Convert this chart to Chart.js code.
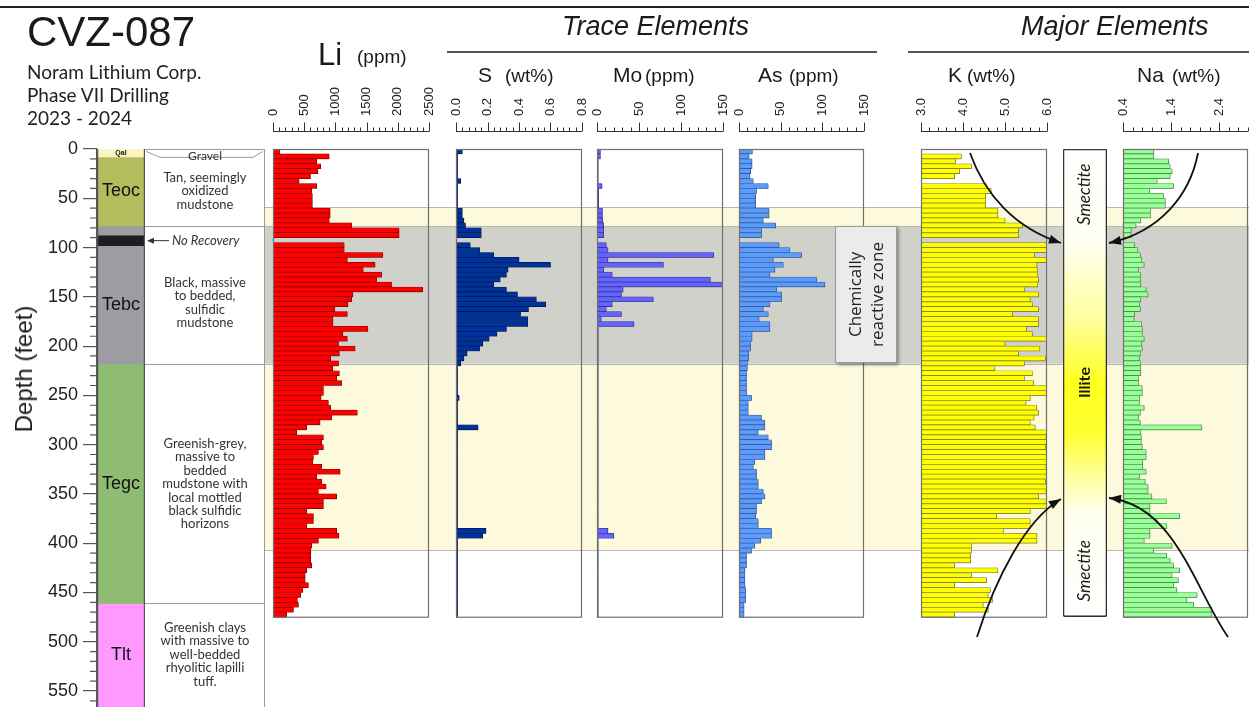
<!DOCTYPE html>
<html>
<head>
<meta charset="utf-8">
<title>CVZ-087</title>
<script src="https://cdn.jsdelivr.net/npm/chart.js@4.4.1/dist/chart.umd.min.js"></script>
<style>
html,body{margin:0;padding:0;background:#fff;}
#wrap{position:relative;width:1249px;height:707px;overflow:hidden;background:#fff;}
#wrap canvas{position:absolute;z-index:1;}
.t{position:absolute;white-space:nowrap;color:#1a1a1a;z-index:5;line-height:1;font-family:'Liberation Sans',Arial,sans-serif;}
.c{font-family:Lato,'Open Sans',sans-serif;color:#222;}
.desc{position:absolute;left:146px;width:118px;text-align:center;font-family:Lato,sans-serif;font-size:13px;line-height:13.4px;color:#333;z-index:5;}
.rule{position:absolute;z-index:5;}
</style>
</head>
<body>
<div id="wrap">
  <div class="rule" style="left:0;top:6px;width:1249px;height:2px;background:#222"></div>
  <div class="t" style="left:27px;top:11px;font-size:42px;">CVZ-087</div>
  <div class="t c" style="left:27px;top:62px;font-size:19px;">Noram Lithium Corp.</div>
  <div class="t c" style="left:27px;top:85px;font-size:19px;">Phase VII Drilling</div>
  <div class="t c" style="left:27px;top:108px;font-size:19px;">2023 - 2024</div>

  <div class="t" style="left:562px;top:13px;font-size:27px;font-style:italic;">Trace Elements</div>
  <div class="rule" style="left:447px;top:51px;width:430px;height:2px;background:#555"></div>
  <div class="t" style="left:1021px;top:13px;font-size:27px;font-style:italic;">Major Elements</div>
  <div class="rule" style="left:908px;top:51px;width:341px;height:2px;background:#555"></div>

  <div class="t" style="left:318px;top:39px;font-size:31px;">Li</div>
  <div class="t" style="left:357px;top:47px;font-size:19px;">(ppm)</div>
  <div class="t" style="left:478px;top:64px;font-size:21px;">S</div>
  <div class="t" style="left:505px;top:66px;font-size:19px;">(wt%)</div>
  <div class="t" style="left:613px;top:64px;font-size:21px;">Mo</div>
  <div class="t" style="left:645px;top:66px;font-size:19px;">(ppm)</div>
  <div class="t" style="left:758px;top:64px;font-size:21px;">As</div>
  <div class="t" style="left:789px;top:66px;font-size:19px;">(ppm)</div>
  <div class="t" style="left:948px;top:64px;font-size:21px;">K</div>
  <div class="t" style="left:967px;top:66px;font-size:19px;">(wt%)</div>
  <div class="t" style="left:1137px;top:64px;font-size:21px;">Na</div>
  <div class="t" style="left:1172px;top:66px;font-size:19px;">(wt%)</div>

  <div class="t" style="left:24px;top:369px;font-size:24px;transform:translate(-50%,-50%) rotate(-90deg);">Depth (feet)</div>

  <div class="desc" style="top:149px;font-size:12px;">Gravel</div>
  <div class="desc" style="top:171px;">Tan, seemingly<br>oxidized<br>mudstone</div>
  <div class="t c" style="left:172px;top:234px;font-size:13px;font-style:italic;color:#333;">No Recovery</div>
  <div class="desc" style="top:276px;">Black, massive<br>to bedded,<br>sulfidic<br>mudstone</div>
  <div class="desc" style="top:437px;">Greenish-grey,<br>massive to<br>bedded<br>mudstone with<br>local mottled<br>black sulfidic<br>horizons</div>
  <div class="desc" style="top:621px;">Greenish clays<br>with massive to<br>well-bedded<br>rhyolitic lapilli<br>tuff.</div>

  <div style="position:absolute;left:835px;top:226px;width:62px;height:137px;background:#ebebeb;border:1px solid #9a9a9a;box-shadow:2px 2px 3px rgba(0,0,0,0.35);z-index:6;box-sizing:border-box;display:flex;align-items:center;justify-content:center;">
    <div style="writing-mode:vertical-rl;transform:rotate(180deg);font-family:'Open Sans',sans-serif;font-size:17px;line-height:22px;text-align:center;color:#222;white-space:nowrap;">Chemically<br>reactive zone</div>
  </div>
</div>
<script>
// ---------------- DATA ----------------
const DEPTH_MAX = 566.2;      // depth shown at the bottom edge (feet)
const FRAME_BOTTOM = 474.6;   // bottom of the sampled interval (feet)

const SAMPLE_DEPTHS = [
  2.5,7.5,12.5,17.5,22.5,27.5,32.5,37.5,42.5,47.5,
  52.5,57.5,62.5,67.5,72.5,77.5,82.5,87.5,92.5,97.5,
  102.5,107.5,112.5,117.5,122.5,127.5,132.5,137.5,142.5,147.5,
  152.5,157.5,162.5,167.5,172.5,177.5,182.5,187.5,192.5,197.5,
  202.5,207.5,212.5,217.5,222.5,227.5,232.5,237.5,242.5,247.5,
  252.5,257.5,262.5,267.5,272.5,277.5,282.5,287.5,292.5,297.5,
  302.5,307.5,312.5,317.5,322.5,327.5,332.5,337.5,342.5,347.5,
  352.5,357.5,362.5,367.5,372.5,377.5,382.5,387.5,392.5,397.5,
  402.5,407.5,412.5,417.5,422.5,427.5,432.5,437.5,442.5,447.5,
  452.5,457.5,462.5,467.5,472.5
];

const LI_PPM = [
  110,900,700,765,720,600,417,700,620,630,
  630,630,915,915,900,1260,2020,2020,null,1140,
  1140,1760,1190,1635,1445,1740,1660,1900,2400,1280,
  1260,1200,990,1190,960,960,1520,1120,1190,1050,
  1315,1063,925,1050,957,1063,1020,1100,807,807,
  770,887,925,1350,940,753,540,380,807,780,
  807,727,647,636,780,1075,700,780,850,727,
  1020,807,807,540,647,647,540,1020,1055,727,
  620,605,605,605,620,540,514,514,567,476,
  444,390,407,327,220
];
const S_WT = [
  0.04,0.01,0.01,0.01,0.01,0.01,0.03,0.01,0.01,0.01,
  0.01,0.01,0.04,0.04,0.05,0.06,0.16,0.16,null,0.09,
  0.15,0.24,0.40,0.60,0.33,0.32,0.28,0.24,0.32,0.39,
  0.51,0.57,0.46,0.41,0.455,0.455,0.32,0.26,0.21,0.17,
  0.15,0.07,0.05,0.03,0.01,0.01,0.01,0.01,0.01,0.01,
  0.02,0.01,0.01,0.01,0.01,0.01,0.14,0.01,0.01,0.01,
  0.01,0.01,0.01,0.01,0.01,0.01,0.01,0.01,0.01,0.01,
  0.01,0.01,0.01,0.01,0.01,0.01,0.01,0.19,0.17,0.01,
  0.01,0.01,0.01,0.01,0.01,0.01,0.01,0.01,0.01,0.01,
  0.01,0.01,0.01,0.01,0.01
];
const MO_PPM = [
  4,4,1.5,1.5,1.5,1.5,1.5,6,2,2,
  2,2,6.5,6.5,7,8,8,8,null,11,
  13,139,13,79,8,18,135,150,31,29,
  67,18,11,29,5,44,1.5,1.5,1.5,1.5,
  1.5,1.5,1.5,1.5,1.5,1.5,1.5,1.5,1.5,1.5,
  1.5,1.5,1.5,1.5,1.5,1.5,1.5,1.5,1.5,1.5,
  1.5,1.5,1.5,1.5,1.5,1.5,1.5,1.5,1.5,1.5,
  1.5,1.5,1.5,1.5,1.5,1.5,1.5,13,20,1.5,
  1.5,1.5,1.5,1.5,1.5,1.5,1.5,1.5,1.5,1.5,
  1.5,1.5,1.5,1.5,1.5
];
const AS_PPM = [
  16,12,15.6,15.6,14,13,17,35,21,20,
  20,20,36,36,29,44,27,27,null,48,
  61,75,41,53,43,37,93,103,45,51,
  51,37,29,35,24,37,37,15.6,15.6,13.8,
  13.8,11.6,11.6,10,10,9,9,9,9,9,
  15,11,11,11,27,31,31,23,35,39,
  39,31,31,19,17,21,21,23,23,29,
  31,27,21,21,20,23,23,39,39,26,
  19,15,9,9,9,7,7,7,7,8,
  8,8,6,6,6
];
const K_WT = [
  null,3.96,3.82,4.2,3.92,3.8,2.9,4.56,4.67,4.54,
  4.54,4.54,4.83,4.83,5.0,5.42,5.32,5.32,null,6.0,
  6.0,5.7,6.0,5.76,5.78,5.78,5.8,5.78,5.46,5.8,
  5.6,5.65,5.8,5.18,5.8,5.8,5.51,5.65,6.0,5.0,
  5.83,5.32,5.96,5.46,4.76,5.65,5.46,5.68,6.0,6.0,
  5.6,5.5,5.75,5.8,5.69,5.6,5.72,6.0,5.98,6.0,
  5.97,6.0,5.99,6.0,5.98,6.0,6.0,5.97,6.0,5.98,
  5.8,6.0,6.0,5.6,4.8,5.6,5.6,4.96,5.76,5.76,
  4.2,4.2,4.18,4.18,3.8,4.83,4.2,4.56,3.8,4.65,
  4.6,4.7,4.48,4.6,3.8
];
const NA_WT = [
  1.04,1.04,1.35,1.38,1.42,1.38,1.11,1.45,0.95,1.24,
  1.28,1.28,0.97,0.97,0.77,0.67,0.57,0.57,null,0.64,
  0.71,0.76,0.79,0.84,0.72,0.77,0.76,0.77,0.88,0.92,
  0.77,0.74,0.76,0.64,0.63,0.79,0.8,0.8,0.84,0.79,
  0.8,0.76,0.74,0.77,0.77,0.77,0.72,0.72,0.8,0.8,
  0.74,0.74,0.84,0.76,0.72,0.76,2.04,0.77,0.78,0.78,
  0.8,0.88,0.88,0.81,0.81,0.88,0.74,0.86,0.92,0.92,
  1.0,1.3,0.96,0.96,1.58,1.11,1.31,0.96,0.96,0.84,
  1.42,1.04,1.31,1.38,1.45,1.58,1.42,1.55,1.45,1.52,
  1.94,1.73,1.87,2.25,2.25
];

// axis ticks (values and labels)
const LI_TICKS = [0,500,1000,1500,2000,2500];
const LI_TICK_LABELS = ['0','500','1000','1500','2000','2500'];
const S_TICKS = [0,0.2,0.4,0.6,0.8];
const S_TICK_LABELS = ['0.0','0.2','0.4','0.6','0.8'];
const MO_TICKS = [0,50,100,150];
const MO_TICK_LABELS = ['0','50','100','150'];
const AS_TICKS = [0,50,100,150];
const AS_TICK_LABELS = ['0','50','100','150'];
const K_TICKS = [3,4,5,6];
const K_TICK_LABELS = ['3.0','4.0','5.0','6.0'];
const NA_TICKS = [0.4,1.4,2.4];
const NA_TICK_LABELS = ['0.4','1.4','2.4'];
const DEPTH_TICKS_STEP = 50;

// lithology units (feet)
const LITH_UNITS = ['Qal','Teoc','Tebc','Tegc','Tlt'];
const LITH_TOP   = [0, 8, 78, 218, 461];
const LITH_BASE  = [8, 78, 218, 461, 570];
const LITH_LABEL_DEPTH = [4, 43, 158, 340, 513];
const NO_RECOVERY = [88, 98];

// highlighted depth bands (feet)
const BAND_TOP  = [59, 78, 218];
const BAND_BASE = [78, 218, 407];

// clay mineralogy column
const CLAY_LABELS = ['Smectite','Illite','Smectite'];
const CLAY_LABEL_DEPTH = [46, 237, 428];

// ---------------- STYLE / LAYOUT ----------------
const W = 1249, H = 707, Y0 = 149;
const LITH_COLORS = ['#fbf5c0','#b4bd5e','#9c9ca2','#8dbc72','#ff99ff'];
const BAND_COLORS = ['#fdf9dc','#d1d1cc','#fdf9dc'];
const BAND_X0 = 264;
const wrap = document.getElementById('wrap');

function makeCanvas(l, t, w, h) {
  const c = document.createElement('canvas');
  c.width = w; c.height = h;
  c.style.left = l + 'px'; c.style.top = t + 'px';
  c.style.width = w + 'px'; c.style.height = h + 'px';
  wrap.appendChild(c);
  return c;
}

Chart.defaults.font.family = "'Liberation Sans', Arial, sans-serif";
Chart.defaults.animation = false;
Chart.defaults.responsive = false;
Chart.defaults.events = [];
Chart.defaults.plugins.legend.display = false;
Chart.defaults.plugins.tooltip.enabled = false;

const depthScale = () => ({type:'linear', reverse:true, min:0, max:DEPTH_MAX, display:false, offset:false, grid:{offset:false}});

// soft drop shadow under the bars, as in the original figure
const barShadow = {
  id:'barShadow',
  beforeDatasetsDraw(chart) {
    const ctx = chart.ctx;
    ctx.save();
    ctx.shadowColor = 'rgba(0,0,0,0.35)';
    ctx.shadowBlur = 2;
    ctx.shadowOffsetX = 1;
    ctx.shadowOffsetY = 1;
  },
  afterDatasetsDraw(chart) { chart.ctx.restore(); }
};

// ---------- background chart: depth axis, bands, description column ----------
const bgDecor = {
  id:'bgDecor',
  beforeDatasetsDraw(chart) {
    const ys = chart.scales.y, ctx = chart.ctx;
    ctx.save();
    BAND_TOP.forEach((t, i) => {
      const y1 = ys.getPixelForValue(t), y2 = ys.getPixelForValue(BAND_BASE[i]);
      ctx.fillStyle = BAND_COLORS[i];
      ctx.fillRect(BAND_X0, y1, W - BAND_X0, y2 - y1);
      ctx.strokeStyle = '#b9b9b0'; ctx.lineWidth = 1;
      ctx.beginPath();
      ctx.moveTo(BAND_X0, Math.round(y1) + 0.5); ctx.lineTo(W, Math.round(y1) + 0.5);
      ctx.moveTo(BAND_X0, Math.round(y2) + 0.5); ctx.lineTo(W, Math.round(y2) + 0.5);
      ctx.stroke();
    });
    // description column
    ctx.strokeStyle = '#9a9a9a'; ctx.lineWidth = 1;
    ctx.beginPath();
    ctx.moveTo(BAND_X0 + 0.5, ys.getPixelForValue(0)); ctx.lineTo(BAND_X0 + 0.5, H);
    ctx.moveTo(145, ys.getPixelForValue(0) + 0.5); ctx.lineTo(BAND_X0, ys.getPixelForValue(0) + 0.5);
    [LITH_BASE[1], LITH_BASE[2], LITH_BASE[3]].forEach(d => {
      const y = Math.round(ys.getPixelForValue(d)) + 0.5;
      ctx.moveTo(145, y); ctx.lineTo(BAND_X0, y);
    });
    // gravel outline
    const yg = ys.getPixelForValue(LITH_BASE[0]) + 0.5;
    ctx.moveTo(146, yg - 6); ctx.lineTo(160, yg); ctx.lineTo(253, yg); ctx.lineTo(263, yg - 6);
    ctx.stroke();
    // no-recovery arrow
    const yn = ys.getPixelForValue((NO_RECOVERY[0] + NO_RECOVERY[1]) / 2);
    ctx.strokeStyle = '#333'; ctx.fillStyle = '#333'; ctx.lineWidth = 1;
    ctx.beginPath(); ctx.moveTo(152, yn); ctx.lineTo(169, yn); ctx.stroke();
    ctx.beginPath(); ctx.moveTo(147, yn); ctx.lineTo(154, yn - 3); ctx.lineTo(154, yn + 3); ctx.closePath(); ctx.fill();
    // minor depth ticks
    ctx.strokeStyle = '#555'; ctx.lineWidth = 1.2;
    ctx.beginPath();
    for (let d = 10; d <= DEPTH_MAX; d += 10) {
      if (d % DEPTH_TICKS_STEP === 0) continue;
      const y = ys.getPixelForValue(d);
      ctx.moveTo(90, y); ctx.lineTo(97, y);
    }
    ctx.stroke();
    ctx.restore();
  }
};
new Chart(makeCanvas(0, 0, W, H), {
  type:'scatter',
  data:{datasets:[]},
  options:{
    layout:{padding:{top:Y0, left:0, right:0, bottom:0}},
    scales:{
      x:{type:'linear', display:false, min:0, max:1},
      y:{type:'linear', reverse:true, min:0, max:DEPTH_MAX, position:'left', offset:false,
         afterFit(s){ s.width = 97; s.paddingTop = 0; s.paddingBottom = 0; },
         ticks:{stepSize:DEPTH_TICKS_STEP, includeBounds:false, color:'#222', font:{size:18}, padding:5},
         grid:{drawOnChartArea:false, tickLength:14, color:'#555', lineWidth:1.2},
         border:{display:true, color:'#555', width:1.2}}
    }
  },
  plugins:[bgDecor]
});

// ---------- lithology column ----------
const lithDecor = {
  id:'lithDecor',
  afterDatasetsDraw(chart) {
    const ys = chart.scales.y, ctx = chart.ctx, a = chart.chartArea;
    ctx.save();
    ctx.strokeStyle = '#555'; ctx.lineWidth = 1.2;
    ctx.beginPath();
    ctx.moveTo(a.left + 0.6, a.top); ctx.lineTo(a.left + 0.6, a.bottom);
    ctx.moveTo(a.right - 0.6, a.top); ctx.lineTo(a.right - 0.6, a.bottom);
    ctx.stroke();
    ctx.fillStyle = '#111'; ctx.textAlign = 'center'; ctx.textBaseline = 'middle';
    const cx = (a.left + a.right) / 2;
    LITH_UNITS.forEach((u, i) => {
      ctx.font = i === 0 ? "bold 7px 'Liberation Sans', Arial" : "18px 'Liberation Sans', Arial";
      ctx.fillText(u, cx, ys.getPixelForValue(LITH_LABEL_DEPTH[i]));
    });
    ctx.restore();
  }
};
const lithDatasets = LITH_UNITS.map((u, i) => ({
  label:u, data:[[LITH_TOP[i], LITH_BASE[i]]], backgroundColor:LITH_COLORS[i],
  borderWidth:0, grouped:false, barPercentage:1, categoryPercentage:1, order:1
}));
lithDatasets.push({label:'No Recovery', data:[NO_RECOVERY], backgroundColor:'#1e1e1e',
  borderWidth:0, grouped:false, barPercentage:1, categoryPercentage:1, order:0});
new Chart(makeCanvas(97, Y0, 48, H - Y0), {
  type:'bar',
  data:{labels:['Lithology'], datasets:lithDatasets},
  options:{layout:{padding:0}, scales:{x:{display:false}, y:depthScale()}},
  plugins:[lithDecor]
});

// ---------- element panels ----------
const PAD_X = 14, PANEL_TOP = 80, RULER_Y = 131.5, LABEL_Y = 116;
const PANELS = [
  {values:LI_PPM, x0:273, x1:429, min:0, max:2500, minor:100, ticks:LI_TICKS, labels:LI_TICK_LABELS, color:'#ff0000', border:'#9a0000'},
  {values:S_WT, x0:456, x1:582, min:0, max:0.8, minor:0.04, ticks:S_TICKS, labels:S_TICK_LABELS, color:'#003399', border:'#001a66'},
  {values:MO_PPM, x0:597, x1:723, min:0, max:150, minor:10, ticks:MO_TICKS, labels:MO_TICK_LABELS, color:'#6464fa', border:'#3a3ab0'},
  {values:AS_PPM, x0:739, x1:864, min:0, max:150, minor:10, ticks:AS_TICKS, labels:AS_TICK_LABELS, color:'#5c9bfa', border:'#3767b5'},
  {values:K_WT, x0:921, x1:1047, min:3, max:6, minor:0.2, ticks:K_TICKS, labels:K_TICK_LABELS, color:'#ffff00', border:'#8d8d3a'},
  {values:NA_WT, x0:1123, x1:1248, min:0.4, max:3.0, minor:0.2, ticks:NA_TICKS, labels:NA_TICK_LABELS, color:'#99ff99', border:'#4f9a4f'}
];

const panelDecor = (p) => ({
  id:'panelDecor',
  afterDatasetsDraw(chart) {
    const xs = chart.scales.x, ys = chart.scales.y, ctx = chart.ctx, a = chart.chartArea;
    ctx.save();
    ctx.shadowColor = 'transparent';
    // frame
    ctx.strokeStyle = '#707070'; ctx.lineWidth = 1.2;
    const yt = ys.getPixelForValue(0), yb = ys.getPixelForValue(FRAME_BOTTOM);
    ctx.strokeRect(a.left + 0.5, yt + 0.5, a.right - a.left - 1, yb - yt);
    // ruler
    const ry = RULER_Y - PANEL_TOP;
    ctx.strokeStyle = '#333'; ctx.lineWidth = 1;
    ctx.beginPath();
    ctx.moveTo(xs.getPixelForValue(p.min), ry); ctx.lineTo(xs.getPixelForValue(p.max), ry);
    const n = Math.round((p.max - p.min) / p.minor);
    for (let k = 0; k <= n; k++) {
      const v = p.min + k * p.minor;
      const major = p.ticks.some(t => Math.abs(t - v) < p.minor / 10);
      const x = Math.round(xs.getPixelForValue(v)) + 0.5;
      ctx.moveTo(x, ry); ctx.lineTo(x, ry - (major ? 9 : 4));
    }
    ctx.stroke();
    // tick labels (rotated)
    ctx.fillStyle = '#222';
    ctx.font = "13px 'Liberation Sans', Arial";
    ctx.textAlign = 'left'; ctx.textBaseline = 'middle';
    p.ticks.forEach((t, i) => {
      ctx.save();
      ctx.translate(xs.getPixelForValue(t), LABEL_Y - PANEL_TOP);
      ctx.rotate(-Math.PI / 2);
      ctx.fillText(p.labels[i], 0, 0);
      ctx.restore();
    });
    ctx.restore();
  }
});

PANELS.forEach(p => {
  const w = p.x1 - p.x0;
  new Chart(makeCanvas(p.x0 - PAD_X, PANEL_TOP, w + 2 * PAD_X, H - PANEL_TOP), {
    type:'bar',
    data:{datasets:[{
      data:SAMPLE_DEPTHS.map((d, i) => ({y:d, x:p.values[i]})),
      backgroundColor:p.color, borderColor:p.border, borderWidth:0.7,
      barPercentage:1, categoryPercentage:1
    }]},
    options:{
      indexAxis:'y',
      layout:{padding:{left:PAD_X, right:PAD_X, top:Y0 - PANEL_TOP, bottom:0}},
      scales:{x:{type:'linear', min:p.min, max:p.max, display:false}, y:depthScale()}
    },
    plugins:[barShadow, panelDecor(p)]
  });
});

// ---------- clay mineralogy column + arrows ----------
const MIN_L = 900, MIN_T = 140, CLAY_X0 = 1063, CLAY_W = 44;
const CLAY_STOPS = [[0,'#ffffff'],[95,'#fffff2'],[170,'#ffffa0'],[240,'#ffff1e'],[290,'#ffff33'],[330,'#ffff99'],[370,'#fffff0'],[474.6,'#ffffff']];
const ARROWS = [
  [970,153, 985,195, 1015,228, 1061,243],
  [1198,153, 1190,195, 1160,232, 1109,243],
  [977,637, 995,580, 1025,520, 1061,499],
  [1228,637, 1195,590, 1175,505, 1109,498]
];
const clayDecor = {
  id:'clayDecor',
  afterDatasetsDraw(chart) {
    const ys = chart.scales.y, ctx = chart.ctx, a = chart.chartArea;
    ctx.save();
    ctx.shadowColor = 'transparent';
    const cx = (a.left + a.right) / 2;
    ctx.fillStyle = '#1a1a1a'; ctx.textAlign = 'center'; ctx.textBaseline = 'middle';
    CLAY_LABELS.forEach((t, i) => {
      ctx.save();
      ctx.translate(cx, ys.getPixelForValue(CLAY_LABEL_DEPTH[i]));
      ctx.rotate(-Math.PI / 2);
      ctx.font = t === 'Illite' ? "bold 16px Lato, 'Open Sans', sans-serif" : "italic 17px Lato, 'Open Sans', sans-serif";
      ctx.fillText(t, 0, 0);
      ctx.restore();
    });
    ctx.strokeStyle = '#111'; ctx.fillStyle = '#111'; ctx.lineWidth = 1.8;
    ARROWS.forEach(p => {
      const q = p.map((v, i) => i % 2 === 0 ? v - MIN_L : v - MIN_T);
      ctx.beginPath();
      ctx.moveTo(q[0], q[1]);
      ctx.bezierCurveTo(q[2], q[3], q[4], q[5], q[6], q[7]);
      ctx.stroke();
      const ang = Math.atan2(q[7] - q[5], q[6] - q[4]);
      ctx.beginPath();
      ctx.moveTo(q[6], q[7]);
      ctx.lineTo(q[6] - 12 * Math.cos(ang) + 4.5 * Math.sin(ang), q[7] - 12 * Math.sin(ang) - 4.5 * Math.cos(ang));
      ctx.lineTo(q[6] - 12 * Math.cos(ang) - 4.5 * Math.sin(ang), q[7] - 12 * Math.sin(ang) + 4.5 * Math.cos(ang));
      ctx.closePath(); ctx.fill();
    });
    ctx.restore();
  }
};
new Chart(makeCanvas(MIN_L, MIN_T, W - MIN_L, H - MIN_T), {
  type:'bar',
  data:{labels:['Clay mineralogy'], datasets:[{
    data:[[0, FRAME_BOTTOM]],
    backgroundColor(ctx) {
      const ch = ctx.chart, ys = ch.scales.y;
      if (!ch.chartArea || !ys) return '#ffff99';
      const g = ch.ctx.createLinearGradient(0, ys.getPixelForValue(0), 0, ys.getPixelForValue(FRAME_BOTTOM));
      CLAY_STOPS.forEach(s => g.addColorStop(s[0] / FRAME_BOTTOM, s[1]));
      return g;
    },
    borderColor:'#3a3a3a', borderWidth:1.6, borderSkipped:false, borderRadius:2,
    barPercentage:1, categoryPercentage:1
  }]},
  options:{
    layout:{padding:{left:CLAY_X0 - MIN_L, right:W - CLAY_X0 - CLAY_W, top:Y0 - MIN_T, bottom:0}},
    scales:{x:{display:false}, y:depthScale()}
  },
  plugins:[barShadow, clayDecor]
});
</script>
</body>
</html>
